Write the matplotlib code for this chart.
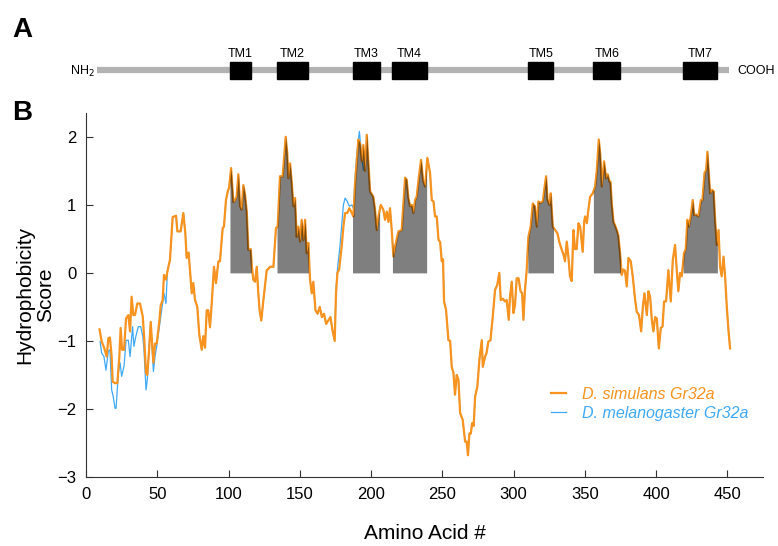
import numpy as np
import matplotlib.pyplot as plt
from matplotlib.patches import Rectangle

plt.rcParams['font.family'] = ['Liberation Sans', 'DejaVu Sans']

# hydrophobicity profile, D. simulans Gr32a
sim_x = [9.5, 11.0, 12.6, 14.5, 15.7, 16.8, 18.0, 18.7, 20.4, 22.0,
         23.4, 24.3, 25.3, 26.7, 28.1, 29.7, 30.9, 32.0, 33.2, 34.4,
         36.0, 37.9, 39.8, 40.7, 42.1, 43.0, 44.4, 45.4, 47.3, 48.4,
         49.6, 51.5, 52.4, 53.8, 54.7, 56.1, 57.1, 58.9, 60.8, 63.2,
         64.1, 66.4, 68.3, 69.7, 70.6, 72.0, 74.2, 75.3, 76.5, 78.1,
         79.5, 81.2, 82.3, 83.5, 84.7, 85.8, 87.0, 88.2, 89.8, 91.2,
         92.9, 94.0, 95.9, 96.8, 98.2, 99.5, 100.4, 101.8, 103.4, 104.6,
         105.7, 106.9, 108.1, 109.2, 110.4, 111.6, 112.8, 113.9, 115.6, 116.3,
         117.4, 118.6, 119.8, 120.9, 121.8, 123.0, 124.2, 125.5, 126.8, 128.0,
         129.1, 131.5, 133.3, 134.5, 136.1, 138.0, 140.1, 141.2, 142.0, 143.2,
         144.4, 145.5, 146.7, 147.8, 149.0, 150.2, 151.3, 152.5, 153.7, 154.9,
         156.0, 157.2, 158.4, 159.5, 161.0, 162.5, 164.0, 165.5, 167.0, 168.5,
         170.0, 171.5, 173.0, 174.5, 175.4, 176.4, 177.6, 179.4, 180.6, 181.8,
         183.3, 184.8, 186.5, 187.6, 188.8, 190.0, 191.1, 192.3, 193.5, 194.6,
         195.8, 197.0, 198.2, 199.3, 201.6, 202.8, 204.0, 205.2, 206.8, 208.6,
         209.8, 211.0, 212.2, 213.3, 214.5, 215.7, 217.0, 219.2, 221.5, 223.9,
         225.0, 226.2, 227.4, 228.6, 229.7, 230.9, 232.0, 233.5, 235.1, 236.5,
         237.9, 239.5, 241.4, 242.6, 243.8, 244.9, 246.1, 247.3, 248.5, 249.6,
         250.5, 251.2, 252.6, 254.3, 255.5, 256.6, 257.8, 258.9, 260.1, 261.3,
         262.5, 264.3, 266.0, 267.1, 268.0, 269.0, 270.0, 270.9, 272.0, 273.0,
         274.6, 276.0, 277.7, 278.4, 280.0, 281.0, 282.3, 283.8, 285.4, 287.0,
         288.5, 290.0, 291.0, 292.5, 294.0, 295.2, 296.6, 297.5, 298.7, 299.9,
         301.0, 302.2, 303.5, 304.9, 306.0, 306.9, 308.0, 309.2, 310.4, 312.0,
         313.5, 314.9, 316.3, 317.4, 318.6, 320.5, 321.5, 322.8, 323.8, 325.1,
         326.1, 327.5, 329.2, 330.8, 332.0, 333.8, 335.0, 336.1, 337.3, 338.4,
         339.6, 340.8, 342.0, 343.1, 344.3, 345.5, 346.7, 348.5, 349.5, 350.2,
         351.4, 352.5, 353.7, 355.6, 357.2, 358.4, 359.8, 360.8, 361.9, 363.5,
         364.9, 366.0, 367.3, 368.0, 368.9, 370.1, 371.2, 372.4, 373.5, 374.7,
         375.9, 377.0, 378.2, 379.4, 380.6, 382.2, 383.6, 385.3, 386.4, 388.0,
         389.5, 390.7, 391.8, 393.5, 394.6, 395.8, 397.0, 398.1, 399.3, 400.5,
         401.9, 403.3, 404.5, 405.6, 407.0, 408.6, 410.3, 411.7, 413.3, 414.5,
         415.6, 416.8, 418.0, 419.6, 420.8, 421.9, 423.0, 424.3, 425.7, 426.7,
         428.0, 429.7, 431.4, 432.5, 434.0, 435.1, 436.0, 436.9, 437.9, 439.3,
         440.4, 441.4, 442.6, 443.8, 444.9, 446.0, 447.3, 448.4, 449.6, 450.8,
         451.9]
sim_y = [-0.83, -1.01, -1.09, -1.23, -0.96, -0.95, -1.23, -1.60, -1.62, -1.62,
         -1.23, -0.81, -1.13, -1.13, -0.67, -0.62, -0.86, -0.35, -0.62, -0.62,
         -0.45, -0.45, -0.64, -0.91, -1.47, -1.50, -1.09, -0.72, -1.32, -1.04,
         -1.04, -0.70, -0.48, -0.40, -0.03, -0.10, 0.02, 0.19, 0.82, 0.84,
         0.61, 0.61, 0.88, 0.58, 0.22, 0.30, -0.30, -0.15, -0.40, -0.50,
         -0.91, -1.13, -0.93, -1.10, -0.55, -0.55, -0.80, -0.45, 0.09, -0.15,
         0.17, 0.17, 0.66, 0.68, 1.07, 1.20, 1.25, 1.54, 1.04, 1.07,
         1.12, 1.45, 0.98, 0.93, 1.29, 1.15, 0.90, 0.34, 0.35, 0.11,
         -0.10, -0.13, 0.09, -0.30, -0.55, -0.70, -0.45, -0.20, 0.04, 0.06,
         0.09, 0.09, 0.66, 0.68, 1.42, 1.42, 2.00, 1.76, 1.39, 1.61,
         1.32, 0.98, 1.10, 0.53, 0.68, 0.46, 0.78, 0.48, 0.78, 0.29,
         0.44, -0.10, -0.30, -0.13, -0.55, -0.60, -0.50, -0.65, -0.60, -0.75,
         -0.70, -0.65, -0.85, -1.00, -0.30, 0.00, 0.05, 0.39, 0.68, 0.88,
         0.88, 0.95, 0.88, 0.83, 1.32, 1.66, 1.96, 1.90, 1.64, 1.88,
         1.50, 2.03, 1.60, 1.20, 1.12, 0.93, 0.63, 0.83, 1.00, 0.93,
         0.78, 0.90, 0.75, 0.95, 0.63, 0.24, 0.40, 0.61, 0.63, 1.40,
         1.37, 1.10, 0.98, 1.00, 0.88, 1.07, 1.12, 1.40, 1.66, 1.36,
         1.27, 1.69, 1.47, 1.07, 1.05, 0.83, 0.83, 0.49, 0.45, 0.17,
         0.20, -0.42, -0.54, -0.99, -1.00, -1.38, -1.47, -1.79, -1.50, -1.57,
         -2.06, -2.16, -2.48, -2.48, -2.68, -2.36, -2.36, -2.21, -2.25, -1.82,
         -1.67, -1.28, -0.99, -1.38, -1.23, -1.18, -1.01, -0.99, -0.64, -0.25,
         -0.18, 0.00, -0.40, -0.38, -0.42, -0.40, -0.69, -0.35, -0.13, -0.59,
         -0.47, -0.08, -0.08, -0.27, -0.30, -0.69, -0.25, 0.04, 0.53, 0.68,
         1.02, 0.98, 0.68, 1.05, 1.03, 1.05, 1.22, 1.42, 1.08, 1.00,
         1.17, 0.68, 0.63, 0.58, 0.46, 0.34, 0.27, 0.17, 0.46, 0.25,
         -0.05, -0.12, 0.63, 0.35, 0.35, 0.73, 0.68, 0.31, 0.75, 0.83,
         0.73, 0.93, 1.12, 1.17, 1.27, 1.51, 1.96, 1.75, 1.27, 1.64,
         1.39, 1.45, 1.34, 1.34, 1.02, 0.75, 0.70, 0.63, 0.55, 0.29,
         -0.03, 0.05, 0.03, -0.20, 0.22, 0.17, -0.05, -0.40, -0.57, -0.62,
         -0.86, -0.50, -0.30, -0.62, -0.27, -0.35, -0.69, -0.86, -0.65, -0.67,
         -1.11, -0.81, -0.79, -0.42, -0.42, 0.04, -0.42, 0.19, 0.41, 0.04,
         -0.27, 0.00, -0.05, 0.29, 0.35, 0.78, 0.68, 0.83, 1.07, 0.85,
         0.86, 0.83, 1.07, 1.07, 1.47, 1.51, 1.78, 1.50, 1.17, 1.22,
         1.20, 0.78, 0.41, 0.63, 0.09, -0.05, 0.24, -0.05, -0.50, -0.85,
         -1.11]

# D. melanogaster Gr32a: only these stretches differ, the rest lies under the orange line
mel_nterm_x = [9.9, 11.0, 12.6, 14.0, 15.7, 16.8, 18.0, 19.0, 20.4, 21.1,
               22.7, 23.9, 25.0, 26.7, 28.1, 29.7, 30.9, 32.7, 33.6, 35.0,
               36.7, 38.4, 39.8, 40.7, 42.1, 43.0, 44.4, 45.4, 47.3, 48.4,
               49.6, 51.5, 53.1, 54.7, 56.1, 57.1]
mel_nterm_y = [-1.01, -1.18, -1.23, -1.43, -1.15, -1.13, -1.72, -1.81, -1.99, -1.99,
               -1.47, -1.32, -1.52, -1.37, -0.99, -0.99, -1.23, -0.79, -1.08, -0.93,
               -0.79, -0.79, -0.93, -1.13, -1.72, -1.57, -1.05, -0.74, -1.45, -1.23,
               -1.08, -0.79, -0.55, -0.30, -0.45, 0.02]
mel_tm3_x = [175.4, 176.4, 178.2, 179.4, 180.6, 181.8, 183.3, 184.8, 186.5, 187.6,
             188.8, 190.0, 191.8, 192.8, 193.5, 194.6, 195.8, 197.0, 198.2]
mel_tm3_y = [-0.25, 0.05, 0.40, 0.70, 1.00, 1.10, 1.05, 0.98, 1.00, 0.95,
             1.40, 1.75, 2.08, 1.85, 1.70, 1.51, 1.60, 2.00, 1.60]

tm_names = ['TM1', 'TM2', 'TM3', 'TM4', 'TM5', 'TM6', 'TM7']
tm_start = [101, 134, 187, 215, 310, 356, 419]
tm_end = [116, 156, 206, 239, 328, 375, 443]
protein_start, protein_end = 8, 451

orange = '#F7931E'
blue = '#3FA9F5'

sx = np.array(sim_x)
sy = np.array(sim_y)

# build the melanogaster curve: simulans values with the divergent stretches swapped in
keep = ~(((sx >= mel_nterm_x[0] - 1) & (sx <= mel_nterm_x[-1])) |
         ((sx >= mel_tm3_x[0]) & (sx <= mel_tm3_x[-1])))
mx = np.concatenate([sx[keep], mel_nterm_x, mel_tm3_x])
my = np.concatenate([sy[keep], mel_nterm_y, mel_tm3_y])
order = np.argsort(mx)
mx, my = mx[order], my[order]

W, H = 778, 546
fig = plt.figure(figsize=(W / 100, H / 100), dpi=100)
left, right = 86 / W, 763 / W

# panel A: protein topology
ax_a = fig.add_axes([left, 1 - 95 / H, right - left, 55 / H])
ax_a.set_xlim(0, 475)
ax_a.set_ylim(95, 40)
ax_a.axis('off')
ax_a.plot([protein_start, protein_end], [70, 70], color='#b3b3b3', lw=4.5,
          solid_capstyle='butt', zorder=1)
for name, s, e in zip(tm_names, tm_start, tm_end):
    ax_a.add_patch(Rectangle((s, 62), e - s, 17, color='black', zorder=2))
    ax_a.text((s + e) / 2, 54, name, ha='center', va='center', fontsize=9)
ax_a.text(protein_start - 2, 71, r'NH$_2$', ha='right', va='center', fontsize=9)
ax_a.text(protein_end + 6, 70.5, 'COOH', ha='left', va='center', fontsize=9)

# panel B: hydrophobicity plot
ax = fig.add_axes([left, 1 - 477 / H, right - left, (477 - 113) / H])
ax.plot(mx, my, color=blue, lw=0.9, label='D. melanogaster Gr32a', zorder=2)
ax.plot(sx, sy, color=orange, lw=1.6, label='D. simulans Gr32a', zorder=3)
for s, e in zip(tm_start, tm_end):
    inside = (sx > s) & (sx < e)
    fx = np.r_[s, sx[inside], e]
    fy = np.interp(fx, sx, sy)
    ax.fill_between(fx, 0, fy, color='black', alpha=0.5, lw=0, zorder=4)

ax.set_xlim(0, 475)
ax.set_ylim(-3, 2.35)
ax.set_xticks(range(0, 451, 50))
ax.set_yticks(range(-3, 3))
ax.spines['top'].set_visible(False)
ax.spines['right'].set_visible(False)
for sp in ax.spines.values():
    sp.set_color('#333333')
ax.tick_params(direction='in', length=5, labelsize=12, pad=7, color='#333333')
ax.set_xlabel('Amino Acid #', fontsize=15, labelpad=16)
ax.set_ylabel('Hydrophobicity\nScore', fontsize=15, linespacing=1.15)
ax.yaxis.set_label_coords(-0.045, 0.5)

handles, labels = ax.get_legend_handles_labels()
leg = ax.legend(handles[::-1], labels[::-1], loc='lower right', frameon=False,
                handlelength=0.95, handletextpad=1.0, labelspacing=0.25,
                bbox_to_anchor=(1.0, 0.115),
                prop={'style': 'italic', 'size': 11.5})
for text, c in zip(leg.get_texts(), [orange, blue]):
    text.set_color(c)

fig.text(12 / W, 1 - 30 / H, 'A', fontsize=20, fontweight='bold', va='center')
fig.text(12 / W, 1 - 113 / H, 'B', fontsize=20, fontweight='bold', va='center')

fig.savefig('out.png', dpi=100)
